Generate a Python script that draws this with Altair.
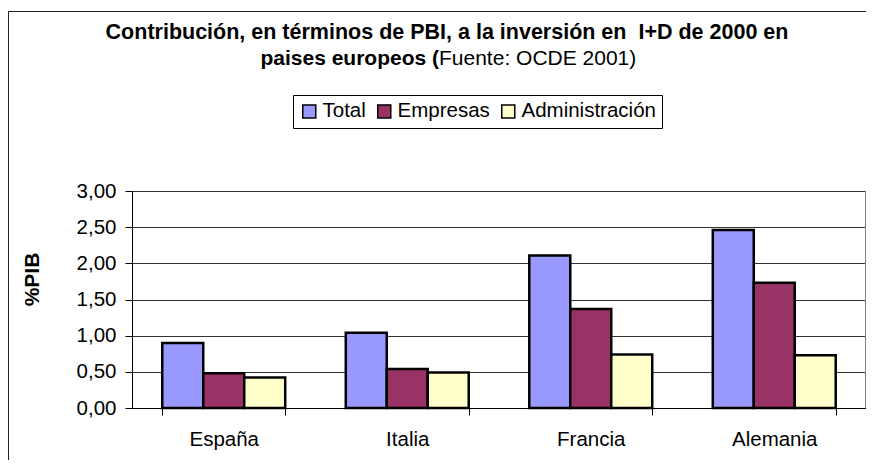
import altair as alt
import pandas as pd

paises = ["España", "Italia", "Francia", "Alemania"]
series = ["Total", "Empresas", "Administración"]
total = [0.90, 1.04, 2.11, 2.46]
empresas = [0.48, 0.54, 1.37, 1.73]
administracion = [0.42, 0.49, 0.74, 0.73]
colores = ["#9999FF", "#993366", "#FFFFCC"]
y_ticks = [0, 0.5, 1.0, 1.5, 2.0, 2.5, 3.0]

titulo_1 = "Contribución, en términos de PBI, a la inversión en \u00a0I+D de 2000 en"
titulo_2a = "paises europeos ("
titulo_2b = "Fuente: OCDE 2001)"
eje_y = "%PIB"

rows = []
for i, p in enumerate(paises):
    for s, vals in zip(series, [total, empresas, administracion]):
        rows.append({"pais": p, "serie": s, "valor": vals[i]})
df = pd.DataFrame(rows)

FONT = "Liberation Sans"
W, H = 734, 217

one = pd.DataFrame({"k": [0]})
frame_top = alt.Chart(one).mark_rule(color="#222", strokeWidth=1).encode(
    x=alt.value(-123.5), x2=alt.value(800), y=alt.value(-179.5)
)
frame_left = alt.Chart(one).mark_rule(color="#222", strokeWidth=1).encode(
    x=alt.value(-123.5), y=alt.value(-179.5), y2=alt.value(300)
)

bars = alt.Chart(df).mark_bar(stroke="black", strokeWidth=2.5).encode(
    x=alt.X(
        "pais:N", sort=paises, title=None,
        scale=alt.Scale(paddingInner=0.33, paddingOuter=0.165),
        axis=alt.Axis(
            labelAngle=0, tickBand="extent", grid=False, domainColor="black",
            tickColor="black", tickSize=7, labelPadding=14, labelFontSize=20.5,
            labelColor="black", labelFont=FONT, domainWidth=1,
        ),
    ),
    xOffset=alt.XOffset("serie:N", sort=series,
                        scale=alt.Scale(paddingInner=0, paddingOuter=0)),
    y=alt.Y(
        "valor:Q", scale=alt.Scale(domain=[0, 3], nice=False),
        axis=alt.Axis(
            values=y_ticks,
            labelExpr="replace(format(datum.value, '.2f'), '.', ',')",
            title=eje_y, titleAngle=270, titleX=-100, titleY=88,
            titleFontSize=21, titleFont=FONT, titleFontWeight="bold",
            titleAlign="center", titleBaseline="middle", titleColor="black",
            labelFontSize=20.5, labelFont=FONT, labelColor="black",
            labelPadding=9, tickSize=7, tickColor="black",
            domainColor="black", gridColor="#333", gridWidth=1,
        ),
    ),
    color=alt.Color(
        "serie:N", sort=series,
        scale=alt.Scale(domain=series, range=colores),
        legend=alt.Legend(
            orient="none", legendX=161, legendY=-96, direction="horizontal",
            title=None, strokeColor="black", padding=6, fillColor="white",
            symbolType="square", symbolSize=169, symbolStrokeColor="black",
            symbolStrokeWidth=1.5, symbolOpacity=1, labelFontSize=20.5,
            labelFont=FONT, labelColor="black", columnPadding=8, labelOffset=3,
        ),
    ),
)

right_border = alt.Chart(one).mark_rule(
    color="#808080", strokeWidth=2
).encode(x=alt.value(W), y=alt.value(0), y2=alt.value(H))

t1 = alt.Chart(pd.DataFrame({"t": [titulo_1]})).mark_text(
    font=FONT, fontSize=21.5, fontWeight="bold", align="center",
    baseline="alphabetic", color="black"
).encode(x=alt.value(315), y=alt.value(-152), text="t:N")

t2a = alt.Chart(pd.DataFrame({"t": [titulo_2a]})).mark_text(
    font=FONT, fontSize=21, fontWeight="bold", align="right",
    baseline="alphabetic", color="black"
).encode(x=alt.value(307), y=alt.value(-126), text="t:N")

t2b = alt.Chart(pd.DataFrame({"t": [titulo_2b]})).mark_text(
    font=FONT, fontSize=21, fontWeight="normal", align="left",
    baseline="alphabetic", color="black"
).encode(x=alt.value(307), y=alt.value(-126), text="t:N")

chart = alt.layer(frame_top, frame_left, bars, right_border, t1, t2a, t2b).properties(
    width=W, height=H,
    padding={"left": 124, "top": 183, "right": 0, "bottom": 52},
    autosize=alt.AutoSizeParams(type="none"),
).configure_view(stroke=None).configure(background="white")

chart.save("out.html", embed_options={"renderer": "svg", "actions": False})
